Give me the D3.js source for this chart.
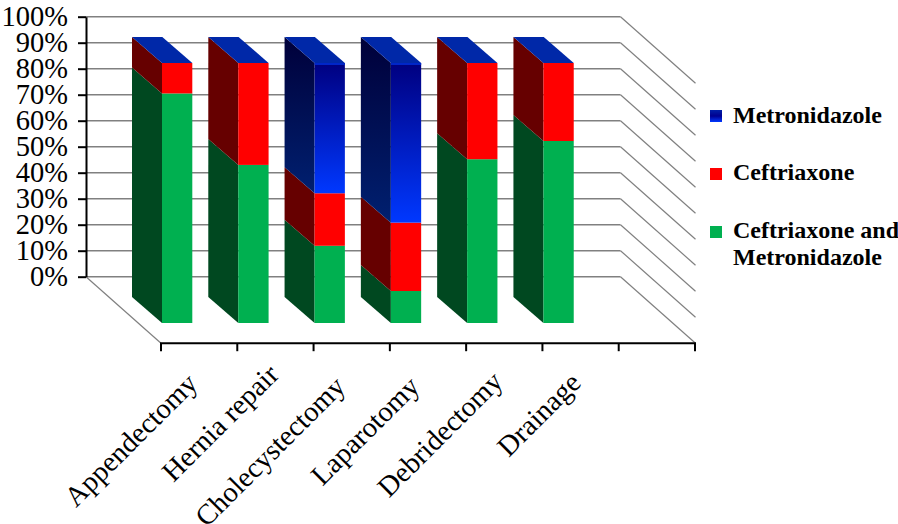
<!DOCTYPE html>
<html><head><meta charset="utf-8">
<script src="https://cdn.jsdelivr.net/npm/d3@7"></script>
<style>html,body{margin:0;padding:0;background:#fff}svg{display:block}text{font-family:"Liberation Serif","Times New Roman",serif;fill:#000}</style>
</head><body><svg id="c" width="898" height="524"></svg>
<script>
const categories = ["Appendectomy","Hernia repair","Cholecystectomy","Laparotomy","Debridectomy","Drainage"];
const combo = [88.3,60.8,29.7,12.3,63,70];
const ceftriaxone = [11.7,39.2,20.2,26.3,37,30];
const metronidazole = [0,0,50.1,61.4,0,0];
const seriesNames = ["Ceftriaxone and Metronidazole","Ceftriaxone","Metronidazole"];
const yTicks = [0,10,20,30,40,50,60,70,80,90,100];

const svg = d3.select("#c");
const W0=86,W1=620.5,Y0=276.7,Y1=16.7, F0=161,F1=695, DX=75, DY=66.5;
const BDX=30, BDY=26, BARW=30.3, BARFRONT=46.3;
const y = d3.scaleLinear().domain([0,100]).range([Y0,Y1]);
const x = d3.scaleBand().domain(categories.concat([" "])).range([F0,F1]);
const rows = categories.map((c,i)=>({c,a:combo[i],b:ceftriaxone[i],m:metronidazole[i]}));
const stack = d3.stack().keys(["a","b","m"])(rows);

const defs = svg.append("defs");
const g1 = defs.append("linearGradient").attr("id","blueF").attr("x1",0).attr("x2",0).attr("y1",0).attr("y2",1);
g1.append("stop").attr("offset",0).attr("stop-color","#000080");
g1.append("stop").attr("offset",1).attr("stop-color","#0038ff");
const g2 = defs.append("linearGradient").attr("id","blueS").attr("x1",0).attr("x2",0).attr("y1",0).attr("y2",1);
g2.append("stop").attr("offset",0).attr("stop-color","#00003a");
g2.append("stop").attr("offset",1).attr("stop-color","#002070");
const g3 = defs.append("linearGradient").attr("id","blueL").attr("x1",0).attr("x2",0).attr("y1",0).attr("y2",1);
g3.append("stop").attr("offset",0).attr("stop-color","#0020a8");
g3.append("stop").attr("offset",.5).attr("stop-color","#000090");
g3.append("stop").attr("offset",1).attr("stop-color","#0038ff");

const front = ["#00b050","#ff0000","url(#blueF)"];
const side = ["#004820","#660000","url(#blueS)"];
const topColor = "#0028a8";

// wall gridlines and diagonals
const gridColor="#808080";
const grid = svg.append("g");
yTicks.forEach(t=>{
  grid.append("line").attr("x1",W0).attr("x2",W1).attr("y1",y(t)).attr("y2",y(t)).attr("stroke",gridColor).attr("stroke-width",1.6);
  grid.append("line").attr("x1",W1).attr("x2",W1+DX).attr("y1",y(t)).attr("y2",y(t)+DY).attr("stroke",gridColor).attr("stroke-width",1.2);
});
grid.append("line").attr("x1",W0).attr("x2",F0).attr("y1",Y0).attr("y2",Y0+DY).attr("stroke",gridColor).attr("stroke-width",1.2);

// bars
const bars = svg.append("g");
categories.forEach((c,i)=>{
  const fx = x(c)+1, bx = fx-BDX;
  stack.forEach((s,k)=>{
    const [a,b]=s[i];
    if(b-a<=0) return;
    const yb=y(a)+BARFRONT, yt=y(b)+BARFRONT;
    bars.append("path").attr("d",`M${bx},${yb-BDY}L${fx},${yb}L${fx},${yt}L${bx},${yt-BDY}Z`).attr("fill",side[k]);
    bars.append("rect").attr("x",fx).attr("y",yt).attr("width",BARW).attr("height",yb-yt).attr("fill",front[k]);
    if(k===2) bars.append("rect").attr("x",fx).attr("y",yt).attr("width",BARW).attr("height",2).attr("fill","#0026c8");
  });
  const yt=y(100)+BARFRONT;
  bars.append("path").attr("d",`M${bx},${yt-BDY}L${bx+BARW},${yt-BDY}L${fx+BARW},${yt}L${fx},${yt}Z`).attr("fill",topColor);
});

// y axis
const yAxis = d3.axisLeft(y).tickValues(yTicks).tickFormat(d=>d+"%").tickSize(8).tickSizeOuter(0).tickPadding(10);
const ya = svg.append("g").attr("transform",`translate(${W0},0)`).call(yAxis);
ya.select(".domain").attr("stroke","#000").attr("stroke-width",2);
ya.selectAll(".tick line").attr("stroke","#000").attr("stroke-width",2);
ya.selectAll("text").attr("font-size",28.5).attr("font-family","Liberation Serif").attr("fill","#000").attr("dy","0.31em");

// x axis
const ba = svg.append("g").attr("transform",`translate(0,${Y0+DY})`);
ba.append("line").attr("x1",F0-1).attr("x2",F1+1).attr("stroke","#000").attr("stroke-width",2);
x.domain().concat(["__end"]).forEach(d=>{
  const px = d==="__end"?F1:x(d);
  ba.append("line").attr("x1",px).attr("x2",px).attr("y1",0).attr("y2",8).attr("stroke","#000").attr("stroke-width",2);
});
const labelNudgeX = [-7,-2,-12,-14,-7,-5];
const labelNudgeY = [14,5,17,17,12,13];
categories.forEach((c,i)=>{
  const cx=x(c)+x.bandwidth()/2;
  ba.append("text").attr("text-anchor","end").attr("font-size",28.5)
    .attr("transform",`translate(${cx+7+labelNudgeX[i]},${28+labelNudgeY[i]}) rotate(-45)`).text(c);
});

// legend
const legend = [
 {lines:["Metronidazole"],fill:"url(#blueL)",sy:110,ty:123},
 {lines:["Ceftriaxone"],fill:"#ff0000",sy:168,ty:180},
 {lines:["Ceftriaxone and","Metronidazole"],fill:"#00b050",sy:226,ty:238}
];
const lg = svg.append("g");
legend.forEach(l=>{
  lg.append("rect").attr("x",710).attr("y",l.sy).attr("width",12).attr("height",12).attr("fill",l.fill);
  l.lines.forEach((t,i)=>lg.append("text").attr("x",733).attr("y",l.ty+i*27).attr("font-size",24).attr("font-weight","bold").text(t));
});
</script></body></html>
